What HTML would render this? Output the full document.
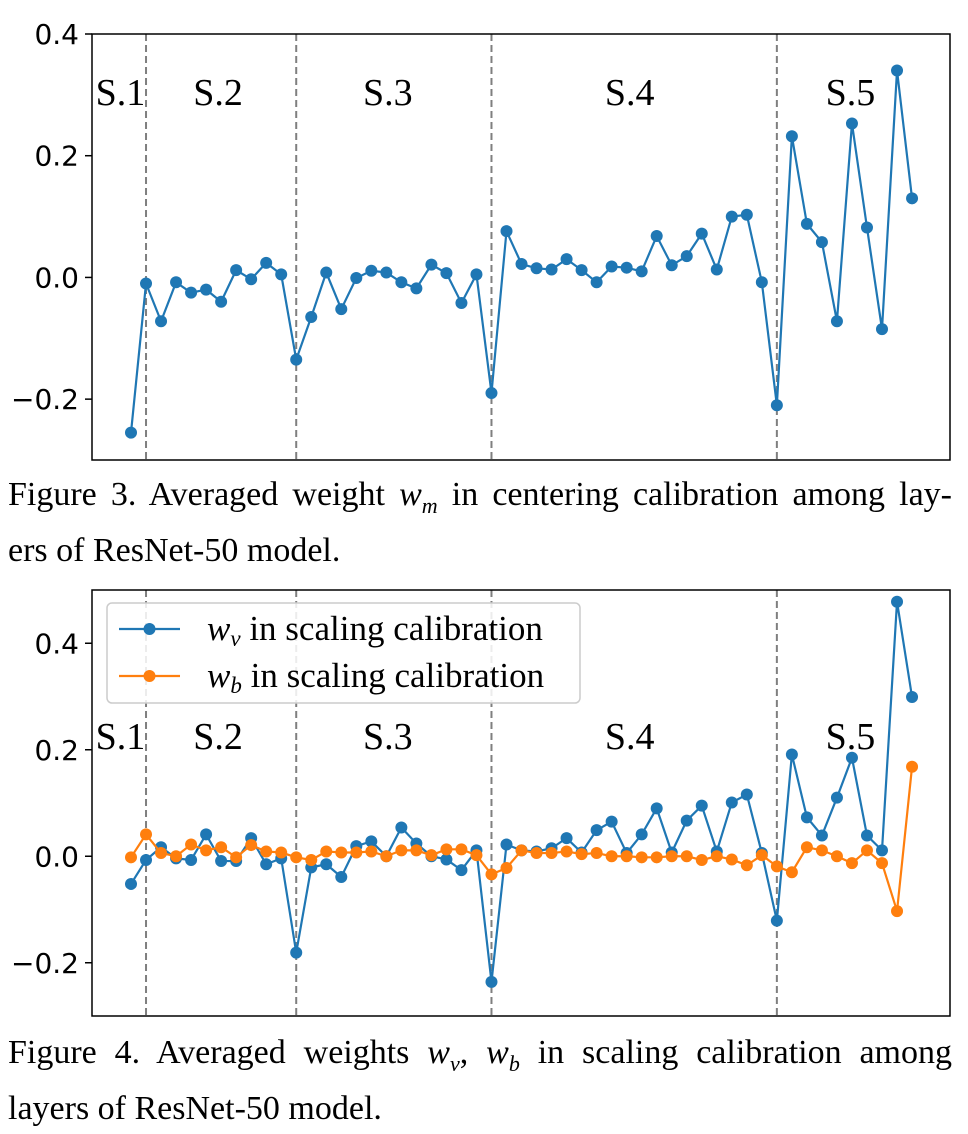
<!DOCTYPE html>
<html><head><meta charset="utf-8"><style>
body{margin:0;background:#fff;width:968px;height:1134px;overflow:hidden}
svg{position:absolute;left:0;top:0}
.cap{position:absolute;left:8px;width:944px;font-family:"Liberation Serif",serif;font-size:34px;line-height:45px;color:#000;white-space:nowrap}
.j{text-align:justify;text-align-last:justify;white-space:normal}
</style></head><body>
<svg id="svg" width="968" height="1134"></svg>
<div class="cap" style="top:472px"><div class="j">Figure 3. Averaged weight <i>w<sub style="font-size:22px">m</sub></i> in centering calibration among lay-</div><div>ers of ResNet-50 model.</div></div>
<div class="cap" style="top:1030px"><div class="j">Figure 4. Averaged weights <i>w<sub style="font-size:22px">v</sub></i>, <i>w<sub style="font-size:22px">b</sub></i> in scaling calibration among</div><div>layers of ResNet-50 model.</div></div>
<script>
const wm=[-0.255,-0.01,-0.072,-0.008,-0.025,-0.02,-0.04,0.012,-0.003,0.024,0.005,-0.135,-0.065,0.008,-0.052,-0.001,0.011,0.008,-0.008,-0.018,0.021,0.007,-0.042,0.005,-0.19,0.076,0.022,0.015,0.013,0.03,0.012,-0.008,0.018,0.016,0.01,0.068,0.02,0.035,0.072,0.013,0.1,0.103,-0.008,-0.21,0.232,0.088,0.058,-0.072,0.253,0.082,-0.085,0.34,0.13];
const wv=[-0.052,-0.007,0.017,-0.004,-0.007,0.041,-0.009,-0.009,0.034,-0.015,-0.004,-0.181,-0.021,-0.015,-0.039,0.019,0.028,0,0.054,0.024,0,-0.006,-0.026,0.011,-0.236,0.022,0.011,0.009,0.015,0.034,0.007,0.049,0.065,0.006,0.041,0.09,0.007,0.067,0.095,0.009,0.101,0.116,0.006,-0.121,0.191,0.073,0.039,0.11,0.185,0.039,0.011,0.478,0.299];
const wb=[-0.002,0.041,0.006,0,0.022,0.011,0.017,-0.002,0.021,0.009,0.007,-0.002,-0.007,0.009,0.007,0.007,0.009,0,0.011,0.011,0.002,0.013,0.013,0.002,-0.034,-0.022,0.011,0.006,0.006,0.009,0.004,0.006,0,0,-0.002,-0.002,0,0,-0.007,0,-0.006,-0.017,0.002,-0.019,-0.03,0.017,0.011,0,-0.013,0.011,-0.013,-0.103,0.168];
const stageBounds=[1,11,24,43];
const stageLabels=["S.1","S.2","S.3","S.4","S.5"];
const stageLabelIdx=[-0.7,5.8,17.1,33.2,47.9];
const ticks=[-0.2,0.0,0.2,0.4];
const tickLabels=["\u22120.2","0.0","0.2","0.4"];
const NS="http://www.w3.org/2000/svg";
const svg=document.getElementById('svg');
function mk(t,a,p){const e=document.createElementNS(NS,t);for(const k in a)e.setAttribute(k,a[k]);(p||svg).appendChild(e);return e;}
const X=i=>131+i*15.02;
function chart(top,bot,ymin,ymax,series,name,labelY){
  const Y=v=>bot-(v-ymin)/(ymax-ymin)*(bot-top);
  const g=mk('g',{});
  
  
  stageBounds.forEach(b=>{const l=mk('line',{x1:X(b),x2:X(b),y1:top,y2:bot,stroke:'#7f7f7f','stroke-width':2,'stroke-dasharray':'7,4'},g);
    
    });
  stageLabels.forEach((s,i)=>{const t=mk('text',{x:X(stageLabelIdx[i]),y:labelY,'text-anchor':'middle','font-family':'Liberation Serif, serif','font-size':38},g);t.textContent=s;
    
    });
  ticks.forEach((v,i)=>{const y=Y(v);mk('line',{x1:85,x2:92,y1:y,y2:y,stroke:'#000','stroke-width':1.5},g);
    const t=mk('text',{x:79,y:y+10,'text-anchor':'end','font-family':'DejaVu Sans, sans-serif','font-size':28},g);t.textContent=tickLabels[i];
    
    });
  series.forEach(s=>{
    const pts=s.data.map((v,i)=>X(i)+','+Y(v)).join(' ');
    const pl=mk('polyline',{points:pts,fill:'none',stroke:s.c,'stroke-width':2.2},g);
    
    
    s.data.forEach((v,i)=>{const c=mk('circle',{cx:X(i),cy:Y(v),r:6,fill:s.c},g);
      
      });
  });
  const r=mk('rect',{x:92,y:top,width:858,height:bot-top,fill:'none',stroke:'#000','stroke-width':1.5},g);
  
  
}
chart(34,460,-0.3,0.4,[{data:wm,c:'#1f77b4',n:'wm'}],'figure-3-chart',105);
chart(590,1016,-0.3,0.5,[{data:wv,c:'#1f77b4',n:'wv'},{data:wb,c:'#ff7f0e',n:'wb'}],'figure-4-chart',749);
const lg=mk('g',{});


mk('rect',{x:107,y:603,width:473,height:100,rx:5,fill:'#fff','fill-opacity':0.85,stroke:'#ccc','stroke-width':1.5},lg);
[['#1f77b4','v',629],['#ff7f0e','b',676]].forEach(([c,s,y])=>{
  mk('line',{x1:119,x2:180,y1:y,y2:y,stroke:c,'stroke-width':2.2},lg);
  mk('circle',{cx:149.5,cy:y,r:6,fill:c},lg);
  const t=mk('text',{x:207,y:y+11,'font-family':'Liberation Serif, serif','font-size':35},lg);
  t.innerHTML='<tspan font-style="italic">w</tspan><tspan font-style="italic" font-size="23" dy="6">'+s+'</tspan><tspan dy="-6"> in scaling calibration</tspan>';
  
  
});
</script>
</body></html>
